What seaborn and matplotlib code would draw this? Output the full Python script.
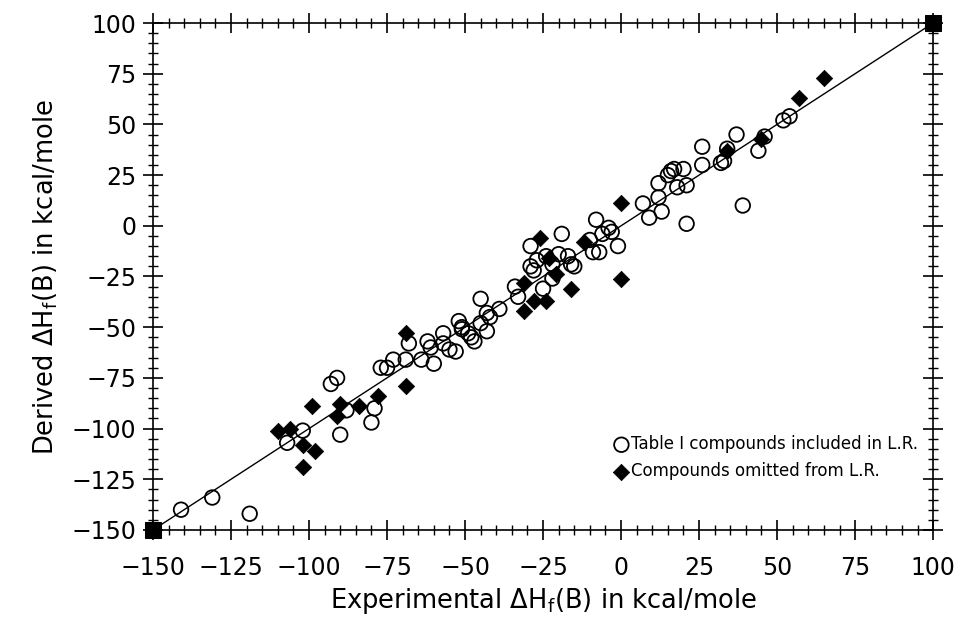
import numpy as np
import pandas as pd
import matplotlib
matplotlib.use("Agg")
import matplotlib.pyplot as plt
import seaborn as sns

# ---- data ----
incl_x = [-141, -131, -119, -107, -102, -90, -88, -80, -79, -93, -91,
          -77, -75, -73, -69, -68, -64, -62, -61, -60, -57, -57, -55, -53,
          -52, -51, -51, -49, -48, -47, -45, -45, -43, -43, -42, -39,
          -34, -33, -29, -29, -28, -27, -25, -24, -22, -22, -20, -19,
          -17, -16, -15, -10, -9, -8, -7, -6, -4, -3, -1,
          7, 9, 12, 12, 13, 15, 16, 17, 18, 20, 21, 21,
          26, 26, 32, 33, 34, 37, 39, 44, 46, 52, 54]
incl_y = [-140, -134, -142, -107, -101, -103, -91, -97, -90, -78, -75,
          -70, -70, -66, -66, -58, -66, -57, -60, -68, -53, -58, -61, -62,
          -47, -50, -51, -53, -55, -57, -48, -36, -52, -43, -45, -41,
          -30, -35, -10, -20, -22, -17, -31, -15, -19, -26, -14, -4,
          -15, -19, -20, -7, -13, 3, -13, -4, -1, -3, -10,
          11, 4, 14, 21, 7, 25, 27, 28, 19, 28, 20, 1,
          39, 30, 31, 32, 38, 45, 10, 37, 44, 52, 54]

omit_x = [-110, -106, -102, -102, -98, -99, -90, -91, -84, -78, -69, -69,
          -31, -31, -28, -24, -26, -23, -21, -16, -12, 0, 0, 34, 45, 57, 65]
omit_y = [-101, -100, -108, -119, -111, -89, -88, -94, -89, -84, -79, -53,
          -28, -42, -37, -37, -6, -16, -24, -31, -8, 11, -26, 37, 43, 63, 73]

line_x = [-150, 100]
line_y = [-150, 100]

ticks = [-150, -125, -100, -75, -50, -25, 0, 25, 50, 75, 100]
tick_labels = ["\u2212150", "\u2212125", "\u2212100", "\u221275", "\u221250",
               "\u221225", "0", "25", "50", "75", "100"]

legend_labels = ["Table I compounds included in L.R.",
                 "Compounds omitted from L.R."]

incl = pd.DataFrame({"exp": incl_x, "der": incl_y})
omit = pd.DataFrame({"exp": omit_x, "der": omit_y})
ref = pd.DataFrame({"exp": line_x, "der": line_y})

sns.set_theme(style="white")
plt.rcParams["font.family"] = ["DejaVu Sans"]
plt.rcParams["mathtext.default"] = "regular"
plt.rcParams["text.color"] = "black"
plt.rcParams["axes.labelcolor"] = "black"
plt.rcParams["xtick.color"] = "black"
plt.rcParams["ytick.color"] = "black"

fig = plt.figure(figsize=(9.62, 6.2), dpi=100)
ax = fig.add_axes([0.159, 0.1452, 0.811, 0.8177])

sns.lineplot(data=ref, x="exp", y="der", ax=ax, color="black", lw=1.0,
             marker="s", markersize=11, markeredgecolor="black", zorder=5,
             clip_on=False)
sns.scatterplot(data=incl, x="exp", y="der", ax=ax, marker="o", s=110,
                facecolors="none", edgecolor="black", linewidth=1.3,
                zorder=3, label=legend_labels[0])
sns.scatterplot(data=omit, x="exp", y="der", ax=ax, marker="D", s=70,
                color="black", edgecolor="black", linewidth=0.5,
                zorder=4, label=legend_labels[1])

ax.set_xlim(-150, 100)
ax.set_ylim(-150, 100)
ax.set_xticks(ticks)
ax.set_yticks(ticks)
ax.set_xticklabels(tick_labels)
ax.set_yticklabels(tick_labels)
ax.set_xticks(np.arange(-150, 101, 5), minor=True)
ax.set_yticks(np.arange(-150, 101, 5), minor=True)
ax.tick_params(which="both", bottom=True, left=True, top=True, right=True)
ax.tick_params(which="major", direction="inout", length=14, width=1.2,
               labelsize=17, pad=5, color="black", labelcolor="black")
ax.tick_params(axis="x", which="major", pad=12)
ax.tick_params(which="minor", direction="inout", length=7, width=1.0,
               color="black")
for sp in ax.spines.values():
    sp.set_color("black")
    sp.set_linewidth(1.2)

ax.set_xlabel(r"Experimental $\Delta$H$_{\rm f}$(B) in kcal/mole", fontsize=18.5,
              labelpad=4)
ax.set_ylabel(r"Derived $\Delta$H$_{\rm f}$(B) in kcal/mole", fontsize=18.5,
              labelpad=8)

leg = ax.legend(loc="lower right", bbox_to_anchor=(0.995, 0.075), frameon=False,
                fontsize=12, handletextpad=0.05, borderaxespad=0.3,
                labelspacing=0.55, handlelength=1.0)

fig.savefig("out.png", dpi=100)
